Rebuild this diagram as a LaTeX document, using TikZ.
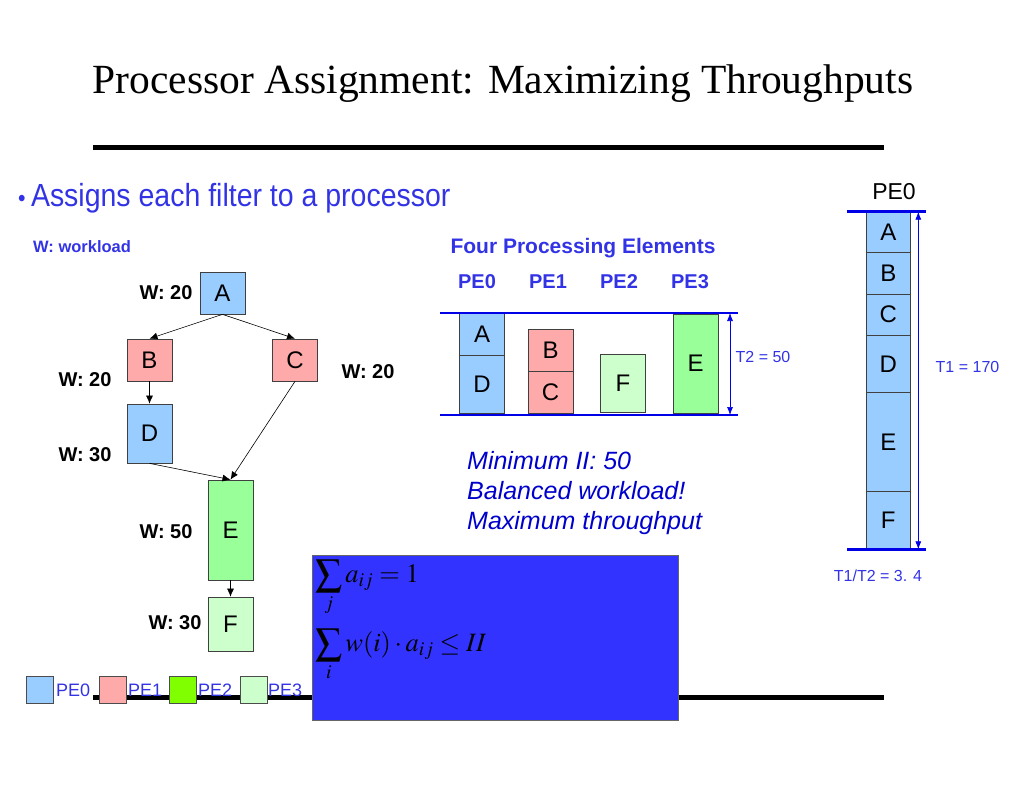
\documentclass[tikz,border=0pt]{standalone}
\usepackage{mathptmx}
\usepackage{fontspec}
\setmainfont{Liberation Sans}
\newfontfamily\titlefont{Liberation Serif}
\newfontfamily\narrowfont{Liberation Sans}[FakeStretch=0.89]
\usetikzlibrary{arrows.meta}

\definecolor{pezero}{RGB}{153,204,255}
\definecolor{peone}{RGB}{255,170,170}
\definecolor{petwo}{RGB}{153,255,153}
\definecolor{petwolegend}{RGB}{128,255,0}
\definecolor{pethree}{RGB}{204,255,204}
\definecolor{txtblue}{RGB}{51,51,230}
\definecolor{darkblue}{RGB}{0,0,204}
\definecolor{lineblue}{RGB}{0,0,230}
\definecolor{boxblue}{RGB}{51,51,255}

\begin{document}
\begin{tikzpicture}[x=1pt, y=-1pt,
    filt/.style={draw=black!75, line width=0.7pt, minimum width=45pt, inner sep=0pt,
        font=\fontsize{24}{24}\selectfont},
    wlab/.style={font=\bfseries\fontsize{20}{20}\selectfont},
    flow/.style={-{Latex[length=8pt,width=7pt]}, line width=0.6pt},
    span/.style={{Latex[length=8pt,width=6pt]}-{Latex[length=8pt,width=6pt]},
        lineblue, line width=0.7pt},
    rail/.style={lineblue, line width=2.5pt},
    pelab/.style={text=txtblue, font=\bfseries\fontsize{20}{20}\selectfont},
    legbox/.style={draw=black!70, line width=0.6pt, minimum width=27pt, minimum height=27pt, inner sep=0pt},
    leglab/.style={anchor=west, inner sep=0pt, text=txtblue, font=\fontsize{18}{18}\selectfont},
]
    \useasboundingbox (0,0) rectangle (1024,791);

    % Title
    \node[font=\titlefont\fontsize{41.5}{41.5}\selectfont] (title) at (503,84)
        {Processor Assignment: Maximizing Throughputs};
    \draw[line width=5pt] (93,148) -- (884,148);

    % Bullet
    \node[anchor=west, inner sep=0pt, text=txtblue, font=\narrowfont\fontsize{32}{32}\selectfont]
        (bullet) at (18,198) {{\fontsize{24}{24}\selectfont\textbullet}\,Assigns each filter to a processor};
    \node[anchor=west, inner sep=0pt, text=txtblue, font=\bfseries\fontsize{16.5}{16.5}\selectfont]
        (wkey) at (33,247) {W: workload};

    % Stream graph
    \node[filt, fill=pezero, minimum height=42pt] (A) at (222.5,293) {A};
    \node[filt, fill=peone, minimum height=42pt] (B) at (149.5,360) {B};
    \node[filt, fill=peone, minimum height=42pt] (C) at (295,360) {C};
    \node[filt, fill=pezero, minimum height=59pt] (D) at (149.5,433.5) {D};
    \node[filt, fill=petwo, minimum height=100pt] (E) at (230.5,530) {E};
    \node[filt, fill=pethree, minimum height=54pt] (F) at (230.5,624) {F};

    \node[wlab] (wA) at (166,293) {W: 20};
    \node[wlab] (wB) at (85,380) {W: 20};
    \node[wlab] (wC) at (368,372) {W: 20};
    \node[wlab] (wD) at (85,455) {W: 30};
    \node[wlab] (wE) at (166,532) {W: 50};
    \node[wlab] (wF) at (175,623) {W: 30};

    \draw[flow] (A.south) -- (B.north);
    \draw[flow] (A.south) -- (C.north);
    \draw[flow] (B.south) -- (D.north);
    \draw[flow] (C.south) -- (E.north);
    \draw[flow] (D.south) -- (E.north);
    \draw[flow] (E.south) -- (F.north);

    % Four processing elements
    \node[pelab, font=\bfseries\fontsize{21}{21}\selectfont] (four) at (583,248) {Four Processing Elements};
    \node[pelab] (pe0) at (477,282) {PE0};
    \node[pelab] (pe1) at (548,282) {PE1};
    \node[pelab] (pe2) at (619,282) {PE2};
    \node[pelab] (pe3) at (690,282) {PE3};

    \node[filt, fill=pezero, minimum height=42.4pt] (pA) at (482,334.5) {A};
    \node[filt, fill=pezero, minimum height=57.6pt] (pD) at (482,384.5) {D};
    \node[filt, fill=peone, minimum height=42pt] (pB) at (550.5,350) {B};
    \node[filt, fill=peone, minimum height=42pt] (pC) at (550.5,392) {C};
    \node[filt, fill=pethree, minimum height=58.4pt] (pF) at (623,383.5) {F};
    \node[filt, fill=petwo, minimum height=99pt] (pE) at (695.5,363.5) {E};

    \draw[rail] (440,313) -- (738,313);
    \draw[rail] (440,415) -- (738,415);
    \coordinate (ttop) at (730,313);
    \coordinate (tbot) at (730,415);
    \draw[span] (ttop) -- (tbot);
    \node[text=txtblue, font=\fontsize{16}{16}\selectfont] (t2) at (763,357) {T2 = 50};

    \node[anchor=west, align=left, inner sep=0pt, text=darkblue, font=\itshape\fontsize{25}{30}\selectfont]
        (notes) at (467,493) {Minimum II: 50\\Balanced workload!\\Maximum throughput};

    % Single PE
    \node[font=\fontsize{23}{23}\selectfont] (single) at (894,192) {PE0};
    \node[filt, fill=pezero, minimum width=43.3pt, minimum height=41pt] (sA) at (888.3,232.2) {A};
    \node[filt, fill=pezero, minimum width=43.3pt, minimum height=41.3pt] (sB) at (888.3,273.4) {B};
    \node[filt, fill=pezero, minimum width=43.3pt, minimum height=41pt] (sC) at (888.3,314.5) {C};
    \node[filt, fill=pezero, minimum width=43.3pt, minimum height=57.7pt] (sD) at (888.3,363.8) {D};
    \node[filt, fill=pezero, minimum width=43.3pt, minimum height=99pt] (sE) at (888.3,442.2) {E};
    \node[filt, fill=pezero, minimum width=43.3pt, minimum height=57.6pt] (sF) at (888.3,520.5) {F};

    \draw[rail] (847,211.7) -- (926,211.7);
    \draw[rail] (847,549.3) -- (926,549.3);
    \coordinate (stop) at (918.3,211.7);
    \coordinate (sbot) at (918.3,549.3);
    \draw[span] (stop) -- (sbot);
    \node[text=txtblue, font=\fontsize{16}{16}\selectfont] (t1) at (967.5,367) {T1 = 170};
    \node[text=txtblue, font=\fontsize{16}{16}\selectfont] (ratio) at (878,576) {T1/T2 = 3. 4};

    % Bottom rule and legend
    \draw[line width=5pt] (93,697) -- (884,697);
    \node[legbox, fill=pezero] (lg0) at (39.5,689.5) {};
    \node[leglab] (lt0) at (56,690) {PE0};
    \node[legbox, fill=peone] (lg1) at (113,689.5) {};
    \node[leglab] (lt1) at (128,690) {PE1};
    \node[legbox, fill=petwolegend] (lg2) at (183,689.5) {};
    \node[leglab] (lt2) at (198,690) {PE2};
    \node[legbox, fill=pethree] (lg3) at (254,689.5) {};
    \node[leglab] (lt3) at (268,690) {PE3};

    % Constraint box
    \node[draw=black!60, fill=boxblue, anchor=north west, minimum width=366pt, minimum height=165pt]
        (eqbox) at (312,555) {};
    \node[anchor=west, inner sep=0pt, font=\fontsize{26.5}{26.5}\selectfont] (eq1) at (315,588)
        {$\displaystyle\sum_j a_{ij} = 1$};
    \node[anchor=west, inner sep=0pt, font=\fontsize{26.5}{26.5}\selectfont] (eq2) at (315,655)
        {$\displaystyle\sum_i w(i)\cdot a_{ij} \le II$};
\end{tikzpicture}
\end{document}
